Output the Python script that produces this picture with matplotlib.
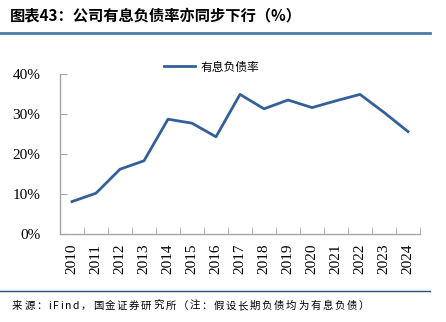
import matplotlib
matplotlib.use('Agg')
import matplotlib.pyplot as plt
from matplotlib.lines import Line2D

plt.rcParams['font.family'] = ['Noto Sans CJK SC', 'DejaVu Sans']

years = ['2010', '2011', '2012', '2013', '2014', '2015', '2016', '2017',
         '2018', '2019', '2020', '2021', '2022', '2023', '2024']
debt_ratio = [8.1, 10.2, 16.2, 18.3, 28.7, 27.7, 24.3, 34.9,
              31.3, 33.5, 31.6, 33.3, 34.9, 30.4, 25.6]
yticks = [0, 10, 20, 30, 40]
series_name = '有息负债率'
title = '图表43：公司有息负债率亦同步下行（%）'
source = '来源：iFind，国金证券研究所（注：假设长期负债均为有息负债）'

line_color = '#34609A'
serif = 'Liberation Serif'
W, H = 446, 322


# draw a string char by char with a little extra gap (the source line is letter-spaced)
def spaced_text(fig, x, y, s, gap, **kw):
    r = fig.canvas.get_renderer()
    for ch in s:
        t = fig.text(x / W, y, ch, **kw)
        x += t.get_window_extent(r).width + gap


fig = plt.figure(figsize=(W / 100, H / 100), dpi=100)
ax = fig.add_axes([60/W, 1-234/H, 360/W, 160/H])

x = range(len(years))
ax.plot(x, debt_ratio, color=line_color, lw=2.0, label=series_name)

ax.set_xlim(-0.5, len(years) - 0.5)
ax.set_ylim(0, 40)
ax.set_yticks(yticks)
ax.set_yticklabels(['%d%%' % v for v in yticks], fontfamily=serif, fontsize=11)
ax.set_xticks(list(x))
ax.set_xticklabels(years, rotation=90, fontfamily=serif, fontsize=11)
ax.set_xticks([i - 0.5 for i in range(len(years) + 1)], minor=True)
ax.tick_params(axis='x', which='major', length=0, pad=7)
ax.tick_params(axis='x', which='minor', direction='in', length=5, color='#A6A6A6')
ax.tick_params(axis='y', direction='in', length=5, color='#A6A6A6', pad=14)
for s in ['top', 'right']:
    ax.spines[s].set_visible(False)
for s in ['left', 'bottom']:
    ax.spines[s].set_color('#A6A6A6')
    ax.spines[s].set_linewidth(1.0)

fig.legend(loc='center', bbox_to_anchor=(212/W, 1-67/H), frameon=False,
           fontsize=8.5, handlelength=2.6, handletextpad=0.5)

# title, header rule and footer
fig.text(10/W, 1-15/H, title, fontsize=11, fontweight='bold', style='italic',
         va='center', ha='left')
fig.add_artist(Line2D([0, 430/W], [1-33/H, 1-33/H], color='#4A7AA6', lw=2.0))
fig.add_artist(Line2D([0, 430/W], [1-291/H, 1-291/H], color='#2B4C7E', lw=1.0))
spaced_text(fig, 12, 1-306/H, source, 1.7, fontsize=7.5, va='center', ha='left')

fig.savefig('out.png', dpi=100)
